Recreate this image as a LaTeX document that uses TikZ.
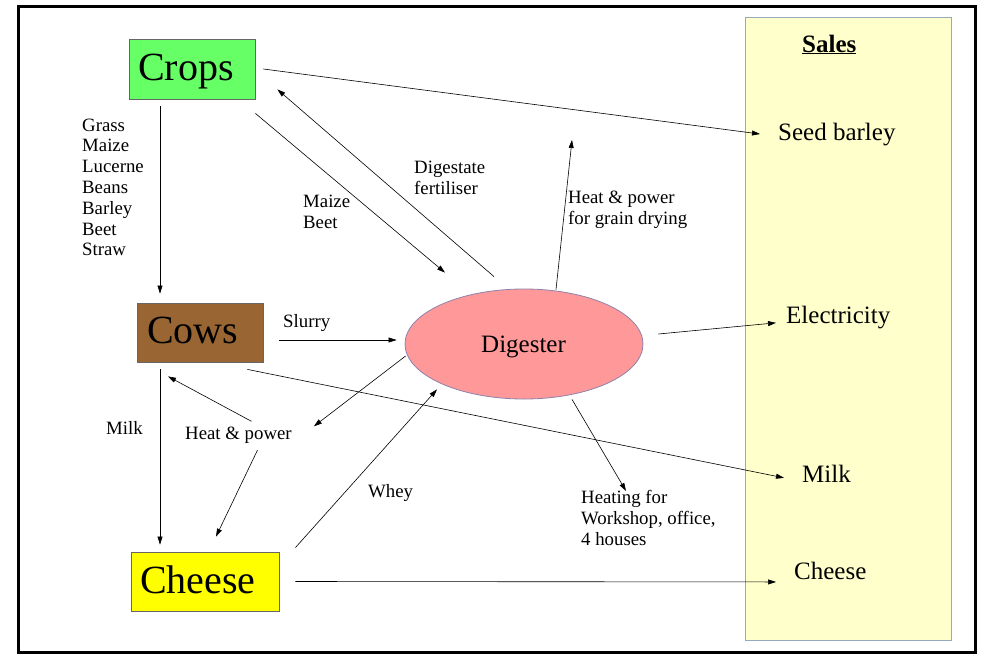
\documentclass[tikz,border=0pt]{standalone}
\usepackage{fontspec}
\setmainfont{Liberation Serif}
\usetikzlibrary{arrows.meta,calc,shapes.geometric}
\definecolor{cropsgreen}{RGB}{102,255,102}
\definecolor{cowsbrown}{RGB}{153,102,51}
\definecolor{cheeseyellow}{RGB}{255,255,0}
\definecolor{digpink}{RGB}{255,153,153}
\definecolor{digedge}{RGB}{140,130,170}
\definecolor{salesfill}{RGB}{255,255,204}
\definecolor{salesedge}{RGB}{150,170,190}
\begin{document}
\begin{tikzpicture}[x=1pt,y=-1pt,
  box/.style={draw=black!60,line width=0.8pt,minimum width=#1,minimum height=59pt,inner sep=0pt},
  bigtext/.style={font=\fontsize{40}{44}\selectfont},
  saletext/.style={font=\fontsize{25}{28}\selectfont,anchor=base west,inner sep=0pt},
  lbl/.style={font=\fontsize{18.8}{20.8}\selectfont,anchor=base west,inner sep=0pt,align=left},
  conn/.style={draw=black,line width=0.6pt,-{Triangle[length=8pt,width=5pt]}}]
\useasboundingbox (0,0) rectangle (982,654);
% outer frame
\draw[line width=3pt] (18.5,6.5) rectangle (975,652.5);
% sales panel
\node[draw=salesedge,fill=salesfill,line width=0.8pt,minimum width=206pt,minimum height=623pt,inner sep=0pt] (salesbox) at (848,328.5) {};
\node[saletext,font=\fontsize{25}{28}\selectfont\bfseries] (sales) at (802,52) {\underline{Sales}};
\node[saletext] (seed) at (778,140) {Seed barley};
\node[saletext] (elec) at (786,323) {Electricity};
\node[saletext] (milk) at (802,482) {Milk};
\node[saletext] (chs) at (794,579) {Cheese};
% main boxes
\node[box=126pt,fill=cropsgreen,minimum height=60pt] (crops) at (192,69) {};
\node[bigtext,anchor=base west,inner sep=0pt] (cropst) at (138,80) {Crops};
\node[box=126pt,fill=cowsbrown] (cows) at (200,332.5) {};
\node[bigtext,anchor=base west,inner sep=0pt] (cowst) at (147,343) {Cows};
\node[box=148pt,fill=cheeseyellow] (cheese) at (205,581.5) {};
\node[bigtext,anchor=base west,inner sep=0pt] (cheeset) at (140,593) {Cheese};
\node[ellipse,draw=digedge,fill=digpink,line width=0.8pt,minimum width=238pt,minimum height=110pt,inner sep=0pt] (dig) at (524,344) {};
\node[font=\fontsize{25}{28}\selectfont,anchor=base west,inner sep=0pt] (digt) at (481,352) {Digester};
% labels (base = baseline of last line)
\node[lbl] (feed) at (82,255.8) {Grass\\Maize\\Lucerne\\Beans\\Barley\\Beet\\Straw};
\node[lbl] (digest) at (414,194) {Digestate\\fertiliser};
\node[lbl] (maize) at (303,228.5) {Maize\\Beet};
\node[lbl] (grain) at (568,224) {Heat \& power\\for grain drying};
\node[lbl] (slurry) at (283,327) {Slurry};
\node[lbl] (milkl) at (106,434) {Milk};
\node[lbl] (hp) at (185,439) {Heat \& power};
\node[lbl] (whey) at (368,497) {Whey};
\node[lbl] (heating) at (581,545) {Heating for\\Workshop, office,\\4 houses};
\coordinate (graindry) at (572,140);
% connectors
\draw[conn] ($(crops.east)+(8,0)$) -- ($(seed.west)+(-18,0)$);
\draw[conn] ($(dig.north)+(-30,-12)$) -- ($(crops.south east)+(22,-10)$);
\draw[conn] ($(crops.south east)+(0,14)$) -- ($(dig.north)+(-79,-16)$);
\draw[conn] ($(crops.south)+(-32,7)$) -- ($(cows.north)+(-40,-9)$);
\draw[conn] ($(cows.east)+(16,7.5)$) -- ($(dig.west)+(-8,-4)$);
\draw[conn] ($(dig.west)+(1,12)$) -- ($(hp.north east)+(22,0)$);
\draw[conn] ($(hp.north)+(13,-5)$) -- ($(cows.south)+(-32,14)$);
\draw[conn] ($(hp.south)+(19,7)$) -- ($(cheese.north)+(11,-15)$);
\draw[conn] ($(cows.south)+(-40,7)$) -- ($(cheese.north)+(-45,-7)$);
\draw[conn] ($(cheese.north east)+(16,-4)$) -- ($(dig.south)+(-87,-10)$);
\draw[conn] ($(cows.south east)+(-16,7)$) -- ($(milk.west)+(-18,4.5)$);
\draw[conn] ($(cheese.east)+(16,0)$) -- ($(chs.west)+(-18,11.5)$);
\draw[conn] ($(dig.east)+(15,-10)$) -- ($(elec.west)+(-10,5.8)$);
\draw[conn] ($(dig.north)+(32,1)$) -- (graindry);
\draw[conn] ($(dig.south)+(48,0)$) -- ($(heating.north west)+(45,1)$);
\end{tikzpicture}
\end{document}
